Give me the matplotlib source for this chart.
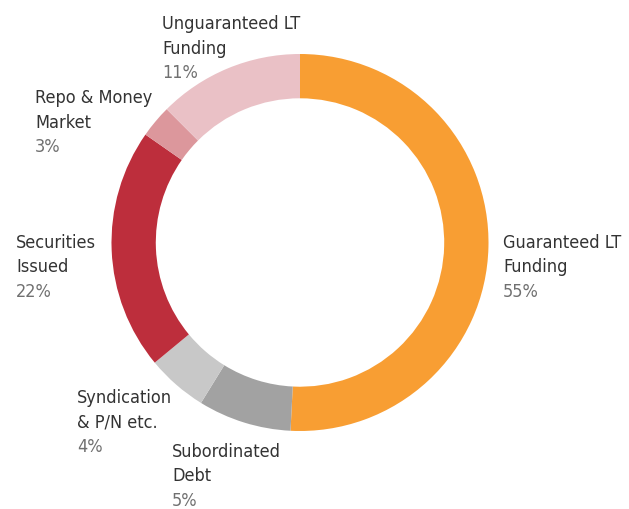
import matplotlib
matplotlib.use('Agg')
import matplotlib.pyplot as plt

# wedge sizes as drawn (clockwise from 12 o'clock)
categories = ['Guaranteed LT\nFunding', 'Subordinated\nDebt', 'Syndication\n& P/N etc.',
              'Securities\nIssued', 'Repo & Money\nMarket', 'Unguaranteed LT\nFunding']
shares = [50.8, 8.0, 5.2, 20.7, 2.8, 12.5]
pct_labels = ['55%', '5%', '4%', '22%', '3%', '11%']
colors = ['#F89E33', '#A2A2A2', '#C8C8C8', '#BD2E3C', '#DC979C', '#EAC1C6']

W, H = 629, 510
fig = plt.figure(figsize=(W / 100, H / 100), dpi=100)

# ring geometry in pixels
cx, cy, r = 300, 243.5, 188.5
ax = fig.add_axes([(cx - r) / W, (H - cy - r) / H, 2 * r / W, 2 * r / H])
ax.pie(shares, colors=colors, startangle=90, counterclock=False, radius=1,
       wedgeprops=dict(width=0.235, linewidth=0))
ax.set_xlim(-1, 1)
ax.set_ylim(-1, 1)
ax.set_aspect('equal')
ax.axis('off')

# label anchor: left x and first baseline, in pixels
label_pos = [(503, 248), (172, 457), (77, 403), (16, 248), (35, 103), (162, 29)]
pitch = 24.5

for name, pct, (lx, ly) in zip(categories, pct_labels, label_pos):
    lines = name.split('\n')
    for i, ln in enumerate(lines):
        fig.text(lx / W, 1 - (ly + i * pitch) / H, ln, fontsize=13, color='#333333',
                 family='DejaVu Sans', fontstretch='condensed', va='baseline', ha='left')
    fig.text(lx / W, 1 - (ly + len(lines) * pitch) / H, pct, fontsize=13, color='#707070',
             family='DejaVu Sans', fontstretch='condensed', va='baseline', ha='left')

fig.savefig('out.png', dpi=100)
